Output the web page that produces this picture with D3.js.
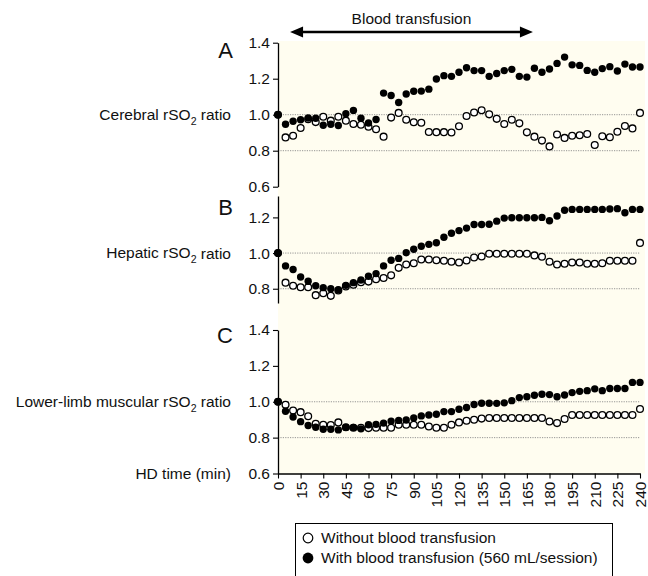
<!DOCTYPE html>
<html><head><meta charset="utf-8">
<script src="https://cdn.jsdelivr.net/npm/d3@7/dist/d3.min.js"></script>
<style>body{margin:0;background:#fff}svg{display:block}text{font-family:"Liberation Sans",Arial,Helvetica,sans-serif}</style>
</head><body><svg id="c" width="648" height="576"></svg>
<script>
const times = [0,5,10,15,20,25,30,35,40,45,50,55,60,65,70,75,80,85,90,95,100,105,110,115,120,125,130,135,140,145,150,155,160,165,170,175,180,185,190,195,200,205,210,215,220,225,230,235,240];
const xTicks = [0,15,30,45,60,75,90,105,120,135,150,165,180,195,210,225,240];

const cerebralWith = [1.00,0.947,0.964,0.972,0.982,0.980,0.941,0.947,0.940,1.005,1.024,0.980,0.954,0.973,1.120,1.107,1.068,1.115,1.130,1.131,1.142,1.198,1.217,1.213,1.236,1.261,1.245,1.245,1.213,1.229,1.245,1.252,1.213,1.209,1.258,1.236,1.254,1.285,1.320,1.277,1.274,1.246,1.236,1.256,1.267,1.243,1.281,1.265,1.265];
const cerebralWithout = [1.00,0.874,0.883,0.926,0.975,0.959,0.989,0.967,0.989,0.967,0.948,0.944,0.933,0.919,0.878,0.984,1.010,0.972,0.958,0.955,0.904,0.903,0.903,0.901,0.936,0.993,1.012,1.025,1.002,0.977,0.948,0.972,0.952,0.902,0.878,0.856,0.824,0.890,0.871,0.883,0.886,0.893,0.832,0.880,0.875,0.905,0.937,0.924,1.010];

const hepaticWith = [1.00,0.928,0.908,0.866,0.842,0.817,0.806,0.800,0.794,0.819,0.834,0.849,0.870,0.885,0.928,0.960,0.970,1.002,1.021,1.038,1.049,1.058,1.089,1.111,1.126,1.140,1.160,1.160,1.162,1.179,1.196,1.198,1.198,1.198,1.198,1.200,1.181,1.208,1.240,1.245,1.245,1.245,1.245,1.245,1.247,1.249,1.226,1.245,1.245];
const hepaticWithout = [1.00,0.834,0.817,0.808,0.808,0.764,0.775,0.760,0.790,0.813,0.823,0.836,0.840,0.853,0.860,0.875,0.917,0.936,0.943,0.964,0.964,0.960,0.957,0.951,0.947,0.958,0.975,0.981,0.996,0.996,0.996,0.996,0.996,0.996,0.987,0.979,0.951,0.936,0.940,0.947,0.947,0.940,0.940,0.943,0.957,0.957,0.957,0.957,1.057];

const muscleWith = [1.00,0.947,0.915,0.889,0.868,0.858,0.847,0.847,0.843,0.857,0.857,0.849,0.872,0.874,0.881,0.892,0.896,0.898,0.909,0.921,0.926,0.930,0.945,0.945,0.958,0.968,0.985,0.992,0.992,0.991,0.994,1.006,1.023,1.028,1.036,1.042,1.040,1.028,1.038,1.051,1.058,1.062,1.072,1.062,1.074,1.074,1.074,1.108,1.108];
const muscleWithout = [1.00,0.983,0.951,0.942,0.919,0.877,0.872,0.870,0.885,0.858,0.855,0.855,0.853,0.855,0.855,0.855,0.872,0.872,0.872,0.872,0.862,0.855,0.855,0.872,0.885,0.894,0.900,0.906,0.909,0.909,0.909,0.909,0.909,0.909,0.909,0.909,0.890,0.881,0.904,0.926,0.926,0.926,0.926,0.926,0.926,0.926,0.926,0.926,0.960];

const panelLetters = ["A","B","C"];
const panelLabels = ["Cerebral rSO","Hepatic rSO","Lower-limb muscular rSO"];
const panelTicks = [[0.6,0.8,1.0,1.2,1.4],[0.8,1.0,1.2],[0.6,0.8,1.0,1.2,1.4]];
const panelDomains = [[0.6,1.4],[0.72,1.32],[0.6,1.4]];
const gridValues = [0.8,1.0];
const transfusionSpan = [8,169];
const legendLabels = ["Without blood transfusion","With blood transfusion (560 mL/session)"];

const svg = d3.select("#c");
const FS = 15.5;
const x = d3.scaleLinear().domain([0,240]).range([278,640]);
const ranges = [[186.7,42.7],[303,196],[473.5,330]];
const letterY = [58,215,343];

// background
svg.append("rect").attr("x",x(0)).attr("y",41).attr("width",645-x(0)).attr("height",473.5-41).attr("fill","#fffdf0");

const panels = [
  {w:cerebralWith, wo:cerebralWithout},
  {w:hepaticWith, wo:hepaticWithout},
  {w:muscleWith, wo:muscleWithout}
];

panels.forEach((p,k)=>{
  const y = d3.scaleLinear().domain(panelDomains[k]).range(ranges[k]);
  const g = svg.append("g");
  g.selectAll("line.grid").data(gridValues).join("line")
    .attr("x1",x(0)).attr("x2",x(240)).attr("y1",d=>y(d)).attr("y2",d=>y(d))
    .attr("stroke","#8a8a8a").attr("stroke-width",0.9).attr("stroke-dasharray","1.2,1.2");
  const ax = g.append("g").attr("transform",`translate(${x(0)},0)`)
    .call(d3.axisLeft(y).tickValues(panelTicks[k]).tickFormat(d3.format(".1f")).tickSize(5).tickSizeOuter(0).tickPadding(3));
  ax.select(".domain").attr("stroke-width",1.3);
  ax.selectAll(".tick line").attr("stroke-width",1.1);
  ax.selectAll("text").attr("font-size",FS).attr("fill","#111").style("font-family",'"Liberation Sans",Arial,sans-serif');
  g.append("text").attr("x",233).attr("y",letterY[k]).attr("text-anchor","end").attr("font-size",22).attr("fill","#111").text(panelLetters[k]);
  const t = g.append("text").attr("x",231).attr("y",y(1.0)).attr("dy","0.35em").attr("text-anchor","end").attr("font-size",FS).attr("fill","#111");
  t.append("tspan").text(panelLabels[k]);
  t.append("tspan").attr("font-size",FS*0.68).attr("dy","0.45em").text("2");
  t.append("tspan").attr("dy","-0.3em").text(" ratio");
  g.selectAll("circle.wo").data(times).join("circle")
    .attr("cx",d=>x(d)).attr("cy",(d,i)=>y(p.wo[i])).attr("r",3.4)
    .attr("fill","#fff").attr("stroke","#000").attr("stroke-width",1.3);
  g.selectAll("circle.w").data(times).join("circle")
    .attr("cx",d=>x(d)).attr("cy",(d,i)=>y(p.w[i])).attr("r",3.7)
    .attr("fill","#000");
  if(k===2){
    const xa = svg.append("g").attr("transform",`translate(0,${ranges[2][0]})`)
      .call(d3.axisBottom(x).tickValues(xTicks).tickSize(5).tickSizeOuter(0));
    xa.select(".domain").attr("stroke-width",1.3);
    xa.selectAll(".tick line").attr("stroke-width",1.1);
    xa.selectAll("text").attr("font-size",FS).attr("fill","#111").style("font-family",'"Liberation Sans",Arial,sans-serif')
      .attr("transform","rotate(-90)").attr("x",-8).attr("y",0).attr("dy","0.35em").attr("text-anchor","end");
    svg.append("text").attr("x",231).attr("y",ranges[2][0]).attr("dy","0.35em").attr("text-anchor","end").attr("font-size",FS).attr("fill","#111").text("HD time (min)");
  }
});

// Blood transfusion arrow
const ay = 32;
const [a0,a1] = transfusionSpan.map(x);
const hl = 13, hw = 5.5;
svg.append("line").attr("x1",a0+hl-1).attr("x2",a1-hl+1).attr("y1",ay).attr("y2",ay).attr("stroke","#000").attr("stroke-width",2.6);
svg.append("path").attr("d",`M${a0},${ay}L${a0+hl},${ay-hw}L${a0+hl},${ay+hw}Z`).attr("fill","#000");
svg.append("path").attr("d",`M${a1},${ay}L${a1-hl},${ay-hw}L${a1-hl},${ay+hw}Z`).attr("fill","#000");
svg.append("text").attr("x",(a0+a1)/2).attr("y",24).attr("text-anchor","middle").attr("font-size",FS).attr("fill","#111").text("Blood transfusion");

// Legend
const lg = svg.append("g");
lg.append("rect").attr("x",295.5).attr("y",523.5).attr("width",317).attr("height",58).attr("fill","#fff").attr("stroke","#000").attr("stroke-width",1);
const ly = [538,558];
lg.append("circle").attr("cx",308).attr("cy",ly[0]).attr("r",4.8).attr("fill","#fff").attr("stroke","#000").attr("stroke-width",1.2);
lg.append("circle").attr("cx",308).attr("cy",ly[1]).attr("r",5.4).attr("fill","#000");
legendLabels.forEach((s,i)=>{
  lg.append("text").attr("x",321).attr("y",ly[i]).attr("dy","0.35em").attr("font-size",FS).attr("fill","#111").text(s);
});
</script></body></html>
